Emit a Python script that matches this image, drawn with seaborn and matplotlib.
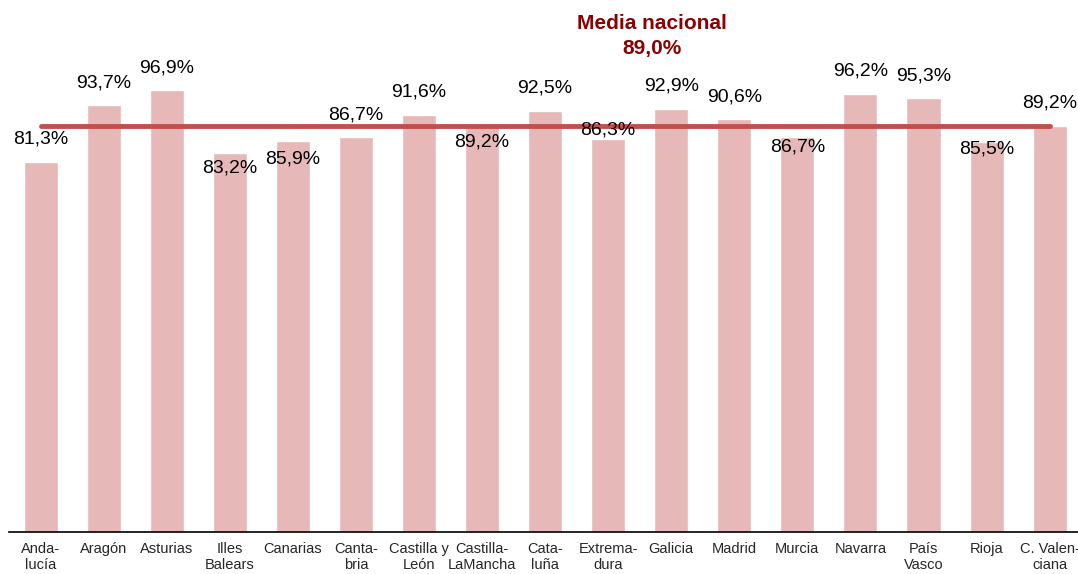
import matplotlib
matplotlib.use('Agg')
import matplotlib.pyplot as plt
from matplotlib import font_manager
import seaborn as sns
import pandas as pd

# data
regions = ["Anda-\nlucía", "Aragón", "Asturias", "Illes\nBalears", "Canarias", "Canta-\nbria",
           "Castilla y\nLeón", "Castilla-\nLaMancha", "Cata-\nluña", "Extrema-\ndura", "Galicia",
           "Madrid", "Murcia", "Navarra", "País\nVasco", "Rioja", "C. Valen-\nciana"]
values = [81.3, 93.7, 96.9, 83.2, 85.9, 86.7, 91.6, 89.2, 92.5, 86.3, 92.9, 90.6, 86.7, 96.2, 95.3, 85.5, 89.2]
media = 89.0

# label offsets in points (positive = above the bar top)
label_offsets = [16, 16, 16, -11, -13, 16, 16, -12, 16, 6, 16, 16, -7, 16, 16, -5, 16]

names = {f.name for f in font_manager.fontManager.ttflist}
family = "Liberation Sans Narrow" if "Liberation Sans Narrow" in names else "Liberation Sans"

sns.set_style("white")
plt.rcParams['font.family'] = [family, 'DejaVu Sans']

df = pd.DataFrame({"region": regions, "value": values})

fig = plt.figure(figsize=(10.78, 5.74), dpi=100)
ax = fig.add_axes([9 / 1078, 42 / 574, 1 - 9 / 1078, 524 / 574])

sns.barplot(data=df, x="region", y="value", color="#E6B8B7", saturation=1, width=0.54, ax=ax)

ax.hlines(media, 0, len(regions) - 1, color="#C0504D", linewidth=3.5, capstyle="round", zorder=3)

for i, (v, off) in enumerate(zip(values, label_offsets)):
    ax.annotate(f"{v:.1f}%".replace(".", ","), (i, v), xytext=(0, off), textcoords="offset points",
                ha="center", va="center", fontsize=14, color="black", zorder=4)

fig.text(652 / 1078, 1 - 36 / 574, f"Media nacional\n{media:.1f}%".replace(".", ","),
         ha="center", va="center", fontsize=15, fontweight="bold", color="#8B0000", linespacing=1.4)

ax.set_ylim(0, 115)
ax.set_xlim(-0.5, 16.45)
ax.set_xlabel("")
ax.set_ylabel("")
ax.set_yticks([])
ax.tick_params(axis="x", length=0, pad=7, labelsize=10.5)
for s in ["top", "right", "left"]:
    ax.spines[s].set_visible(False)
ax.spines["bottom"].set_color("black")
ax.spines["bottom"].set_linewidth(1.2)

fig.savefig("out.png", dpi=100)
